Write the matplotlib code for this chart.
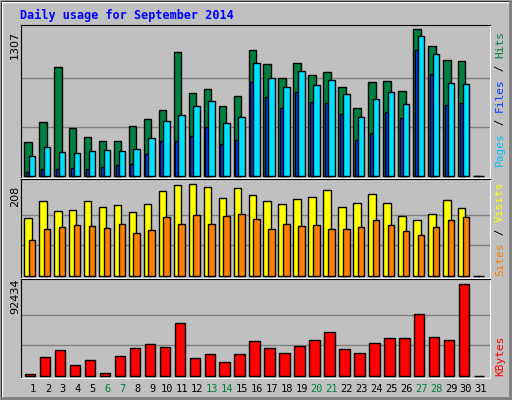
import matplotlib
matplotlib.use("Agg")
import matplotlib.pyplot as plt
from matplotlib.patches import Rectangle
import numpy as np

days = list(range(1, 32))
hits = [300,478,968,425,345,309,309,443,505,585,1102,737,772,621,710,1120,995,870,1004,897,924,790,603,835,843,754,1307,1155,1031,1022,0]
files = [175,255,211,202,220,229,220,238,336,487,541,621,665,469,523,1004,870,790,933,808,852,728,523,683,745,639,1244,1084,826,817,0]
pages = [33,59,59,68,59,77,95,104,193,309,309,353,434,282,318,835,701,603,745,656,647,549,318,380,567,514,1120,906,630,647,0]
visits = [131,170,147,149,170,156,161,145,163,192,206,208,201,176,199,183,170,163,174,179,195,156,165,185,165,136,127,140,172,154,0]
sites = [81,106,111,115,113,109,118,97,104,133,118,138,118,136,140,129,106,118,113,115,106,106,111,127,115,102,93,111,127,133,0]
kbytes = [1700,19570,26650,11470,16530,3370,20580,28680,32730,29690,52970,18560,22610,14510,22610,35760,28680,23620,30700,36780,43860,27670,23620,33740,38800,38800,62080,39810,36780,92434,0]
weekend = [6,7,13,14,20,21,27,28]
title = "Daily usage for September 2014"

BG = "#C0C0C0"
W, H = 512, 400
fig = plt.figure(figsize=(W/100, H/100), dpi=100, facecolor=BG)
mono = "DejaVu Sans Mono"

# outer bevel
ov = fig.add_axes([0, 0, 1, 1]); ov.set_xlim(0, W); ov.set_ylim(H, 0); ov.axis("off")
ov.add_patch(Rectangle((0.5, 0.5), W-1, H-1, fill=False, ec="black", lw=1))
ov.plot([1.5, W-2], [1.5, 1.5], color="white", lw=1)
ov.plot([1.5, 1.5], [1.5, H-2], color="white", lw=1)
ov.plot([2, W-2], [H-2.5, H-2.5], color="#808080", lw=2)
ov.plot([W-2.5, W-2.5], [2, H-2], color="#808080", lw=2)
ov.text(20, 15, title, color="#0000FF", fontsize=8.5, fontweight="bold", family=mono, va="center")

x = np.array(days, dtype=float)
XL = (0.263, 31.61)

def panel(top, bot, maxv, maxy):
    ax = fig.add_axes([21/W, (H-bot)/H, 469/W, (bot-top)/H])
    ax.set_facecolor(BG)
    base = bot - 2
    ymax = maxv * (base - top) / (base - maxy)
    ymin = -maxv * 2 / (base - maxy)
    ax.set_ylim(ymin, ymax); ax.set_xlim(*XL)
    for f in (1/3, 2/3):
        ax.axhline(maxv * f, color="#808080", lw=1, zorder=0)
    ax.set_xticks([]); ax.set_yticks([])
    for s in ("top", "left"):
        ax.spines[s].set_color("black")
    for s in ("bottom", "right"):
        ax.spines[s].set_color("white")
    return ax

kw = dict(edgecolor="black", linewidth=1, align="edge")
a1 = panel(25, 178, 1307, 29.3)
a1.bar(x-0.53, hits, 0.5, color="#008040", **kw)
a1.bar(x-0.42, pages, 0.22, color="#0040FF", **kw)
a1.bar(x-0.22, files, 0.44, color="#00E0FF", **kw)

a2 = panel(179, 278, 208, 184.3)
a2.bar(x-0.53, visits, 0.5, color="#FFFF00", **kw)
a2.bar(x-0.22, sites, 0.44, color="#FF8000", **kw)

a3 = panel(279, 378, 92434, 284.3)
a3.bar(x-0.47, kbytes, 0.7, color="#FF0000", **kw)

# y max labels
for yv, lab in ((45, "1307"), (196, "208"), (296, "92434")):
    ov.text(15, yv, lab, rotation=90, fontsize=8, family="DejaVu Sans", ha="center", va="center")

# day labels
for d in days:
    px = 33 + (d - 1) * 14.93
    ov.text(px, 389, str(d), fontsize=7.5, family=mono, ha="center", va="center",
            color="#008040" if d in weekend else "black")

# right side labels
def side(bottom, parts):
    y = bottom
    for txt, col in parts:
        ov.text(500, y, txt, rotation=90, fontsize=8, family=mono, color=col,
                ha="center", va="bottom")
        y -= len(txt) * 6.75

side(166, [("Pages", "#00C0FF"), (" / ", "black"), ("Files", "#0040FF"), (" / ", "black"), ("Hits", "#008040")])
side(276, [("Sites", "#FF8000"), (" / ", "black"), ("Visits", "#FFFF00")])
side(376, [("KBytes", "#FF0000")])

fig.savefig("out.png", dpi=100, facecolor=BG)
